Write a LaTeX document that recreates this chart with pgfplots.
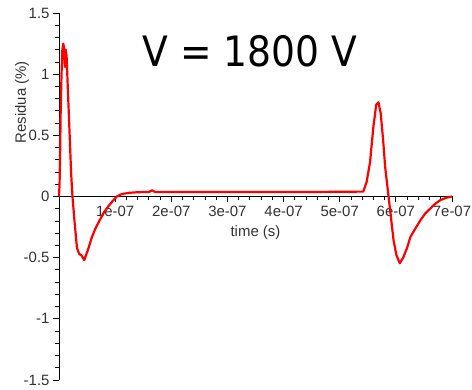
\documentclass[border=0pt]{standalone}
\usepackage{fontspec}
\setmainfont{Liberation Sans}
\newfontfamily\titlefont{DejaVu Sans Condensed}
\usepackage{pgfplots}
\pgfplotsset{compat=1.18}
\pgfplotstableread{
t r
0 0
0.01 0.1
0.02 0.35
0.03 0.7
0.045 1.0
0.06 1.2
0.075 1.25
0.09 1.22
0.105 1.06
0.12 1.2
0.135 1.15
0.16 0.85
0.19 0.5
0.215 0.2
0.24 0.0
0.28 -0.22
0.32 -0.42
0.36 -0.47
0.40 -0.48
0.45 -0.52
0.52 -0.43
0.58 -0.34
0.65 -0.26
0.73 -0.19
0.80 -0.13
0.88 -0.08
0.95 -0.04
1.03 0.0
1.12 0.02
1.25 0.03
1.4 0.035
1.6 0.037
1.66 0.05
1.71 0.037
2.5 0.037
3.5 0.037
4.5 0.037
5.42 0.04
5.48 0.12
5.54 0.28
5.6 0.57
5.65 0.75
5.69 0.77
5.73 0.68
5.77 0.48
5.81 0.24
5.87 0.0
5.92 -0.2
5.96 -0.36
6.01 -0.48
6.07 -0.545
6.13 -0.5
6.2 -0.42
6.26 -0.33
6.35 -0.26
6.43 -0.2
6.52 -0.14
6.61 -0.1
6.7 -0.06
6.79 -0.03
6.9 -0.01
7.0 0.0
}\residua
\begin{document}
\begin{tikzpicture}
\path[use as bounding box] (-59bp,-10bp) rectangle (413bp,380bp);
\begin{axis}[at={(0,0)}, anchor=south west,
  scale only axis, width=393bp, height=367bp,
  xmin=0, xmax=7, ymin=-1.5, ymax=1.5,
  axis lines=middle,
  axis line style={-, black, line width=0.8bp},
  xtick={1,2,3,4,5,6,7},
  xticklabels={1e-07,2e-07,3e-07,4e-07,5e-07,6e-07,7e-07},
  ytick={-1.5,-1,-0.5,0,0.5,1,1.5},
  yticklabels={-1.5,-1,-0.5,0,0.5,1,1.5},
  hide obscured y ticks=false,
  minor x tick num=4, minor y tick num=4,
  tick align=outside,
  major tick length=6bp, minor tick length=3.5bp,
  tick style={black, line width=0.8bp},
  ticklabel style={font=\fontsize{15}{15}\selectfont, text=black!80},
  clip=false]
\addplot[red, line width=2.2bp, line join=round] table[x=t, y=r] {\residua};
\node at (axis cs:3.40,1.186) {\titlefont\fontsize{42}{42}\selectfont V = 1800 V};
\node[rotate=90, font=\fontsize{15}{15}\selectfont, text=black!80] at ([xshift=-37bp]axis cs:0,0.77) {Residua (\%)};
\node[font=\fontsize{15}{15}\selectfont, text=black!80] at (axis cs:3.5,-0.294) {time (s)};
\end{axis}
\end{tikzpicture}
\end{document}
